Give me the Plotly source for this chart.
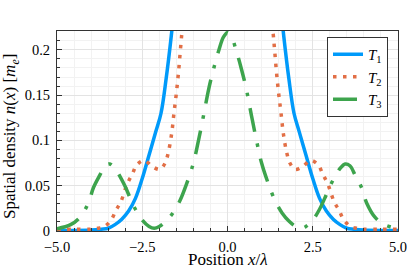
import plotly.graph_objects as go

# ---- data ----
t1_x = [-5.0, -4.5, -4.0, -3.7, -3.5, -3.3, -3.1, -2.9, -2.7, -2.5, -2.3, -2.1, -1.95, -1.8, -1.65, -1.5, -1.2, -0.8, -0.4, 0.0,
        0.4, 0.8, 1.2, 1.5, 1.65, 1.8, 1.95, 2.1, 2.3, 2.5, 2.7, 2.9, 3.1, 3.3, 3.5, 3.7, 4.0, 4.5, 5.0]
t1_y = [0.0005, 0.0005, 0.001, 0.002, 0.003, 0.007, 0.013, 0.022, 0.036, 0.058, 0.084, 0.11, 0.13, 0.168, 0.215, 0.27, 0.38, 0.48, 0.54, 0.56,
        0.54, 0.48, 0.38, 0.27, 0.215, 0.168, 0.13, 0.11, 0.084, 0.058, 0.036, 0.022, 0.013, 0.007, 0.003, 0.002, 0.001, 0.0005, 0.0005]

t2_x = [-5.0, -4.5, -4.0, -3.8, -3.6, -3.4, -3.27, -3.13, -2.94, -2.79, -2.66, -2.44, -2.2, -1.98, -1.83, -1.74, -1.64, -1.57, -1.5, -1.44, -1.39, -1.34, -1.2, -0.8, -0.4, 0.0,
        0.4, 0.8, 1.2, 1.34, 1.39, 1.44, 1.5, 1.57, 1.64, 1.74, 1.83, 1.98, 2.2, 2.44, 2.66, 2.79, 2.94, 3.13, 3.27, 3.4, 3.6, 3.8, 4.0, 4.5, 5.0]
t2_y = [0.002, 0.002, 0.002, 0.003, 0.005, 0.013, 0.023, 0.032, 0.052, 0.063, 0.073, 0.078, 0.071, 0.068, 0.075, 0.086, 0.107, 0.13, 0.152, 0.174, 0.196, 0.218, 0.28, 0.38, 0.44, 0.46,
        0.44, 0.38, 0.28, 0.218, 0.196, 0.174, 0.152, 0.13, 0.107, 0.086, 0.075, 0.068, 0.071, 0.078, 0.073, 0.063, 0.052, 0.032, 0.023, 0.013, 0.005, 0.003, 0.002, 0.002, 0.002]

t3_x = [-5.0, -4.6, -4.33, -4.08, -3.93, -3.74, -3.59, -3.45, -3.3, -3.15, -3.0, -2.85, -2.7, -2.5, -2.3, -2.15, -2.0, -1.8, -1.6, -1.4, -1.2, -1.0, -0.85, -0.7, -0.55, -0.4, -0.25, -0.12, 0.0,
        0.12, 0.25, 0.4, 0.55, 0.7, 0.85, 1.0, 1.2, 1.4, 1.6, 1.8, 2.0, 2.15, 2.3, 2.5, 2.7, 2.85, 3.0, 3.15, 3.3, 3.45, 3.59, 3.74, 3.93, 4.08, 4.33, 4.6, 5.0]
t3_y = [0.0025, 0.007, 0.015, 0.031, 0.048, 0.062, 0.072, 0.074, 0.069, 0.06, 0.049, 0.036, 0.024, 0.012, 0.005, 0.003, 0.005, 0.011, 0.02, 0.033, 0.052, 0.075, 0.1, 0.128, 0.157, 0.18, 0.2, 0.214, 0.219,
        0.214, 0.2, 0.18, 0.157, 0.128, 0.1, 0.075, 0.052, 0.033, 0.02, 0.011, 0.005, 0.003, 0.005, 0.012, 0.024, 0.036, 0.049, 0.06, 0.069, 0.074, 0.072, 0.062, 0.048, 0.031, 0.015, 0.007, 0.0025]

series_names = ["<i>T</i><sub>1</sub>", "<i>T</i><sub>2</sub>", "<i>T</i><sub>3</sub>"]
x_tickvals = [-5.0, -2.5, 0.0, 2.5, 5.0]
x_ticktext = ["\u22125.0", "\u22122.5", "0.0", "2.5", "5.0"]
y_tickvals = [0, 0.05, 0.1, 0.15, 0.2]
y_ticktext = ["0", "0.05", "0.1", "0.15", "0.2"]

FONT = "Liberation Serif"
TICK_FS = 14.5
TITLE_FS = 17

fig = go.Figure()
fig.add_trace(go.Scatter(x=t1_x, y=t1_y, mode="lines", name=series_names[0], line_shape="spline",
                         line=dict(color="#009AFA", width=3.5)))
fig.add_trace(go.Scatter(x=t2_x, y=t2_y, mode="lines", name=series_names[1], line_shape="spline",
                         line=dict(color="#E26F46", width=3.5, dash="3.5px,6.5px")))
fig.add_trace(go.Scatter(x=t3_x, y=t3_y, mode="lines", name=series_names[2], line_shape="spline",
                         line=dict(color="#3DA44D", width=3.5, dash="24px,12px,3.5px,12px")))

axis_common = dict(
    showline=True, linecolor="#333333", linewidth=1, mirror=True,
    ticks="inside", ticklen=5, tickcolor="#333333", tickwidth=1,
    showgrid=True, gridcolor="#e3e3e3", gridwidth=1, zeroline=False,
    tickfont=dict(family=FONT, size=TICK_FS, color="black"),
    ticklabeloverflow="allow",
)

fig.update_xaxes(range=[-5, 5], tickvals=x_tickvals, ticktext=x_ticktext, ticklabelstandoff=3,
                 minor=dict(ticks="inside", ticklen=3, tickcolor="#333333", dtick=0.5,
                            showgrid=True, gridcolor="#f2f2f2"),
                 **axis_common)
fig.update_yaxes(range=[0, 0.2208], tickvals=y_tickvals, ticktext=y_ticktext, ticklabelstandoff=3,
                 minor=dict(ticks="inside", ticklen=3, tickcolor="#333333", dtick=0.01,
                            showgrid=True, gridcolor="#f2f2f2"),
                 **axis_common)

plot_h = 271 - 31 - 40
plot_w = 407 - 57 - 9

fig.update_layout(
    width=407, height=271,
    margin=dict(l=57, r=9, t=31, b=40, autoexpand=False),
    paper_bgcolor="white", plot_bgcolor="white",
    font=dict(family=FONT, size=TITLE_FS, color="black"),
    showlegend=True,
    legend=dict(x=(327 - 57) / plot_w, y=(231 - 37) / plot_h, xanchor="left", yanchor="top",
                bgcolor="white", bordercolor="#333333", borderwidth=1,
                font=dict(family=FONT, size=15), tracegroupgap=0, itemwidth=30),
    annotations=[
        dict(text="Position <i>x</i>/<i>λ</i>", x=0.5, xref="paper",
             y=(231 - 259) / plot_h, yref="paper", yanchor="middle",
             showarrow=False, font=dict(family=FONT, size=TITLE_FS)),
        dict(text="Spatial density <i>n</i>(<i>x</i>) [<i>m</i><sub><i>e</i></sub>]", textangle=-90,
             x=(11 - 57) / plot_w, xref="paper", y=(231 - 137) / plot_h, yref="paper",
             xanchor="center", yanchor="middle",
             showarrow=False, font=dict(family=FONT, size=TITLE_FS)),
    ],
)

fig.write_html("out.html", config={"displayModeBar": False},
               post_script="document.body.style.margin='0';document.body.style.padding='0';")
